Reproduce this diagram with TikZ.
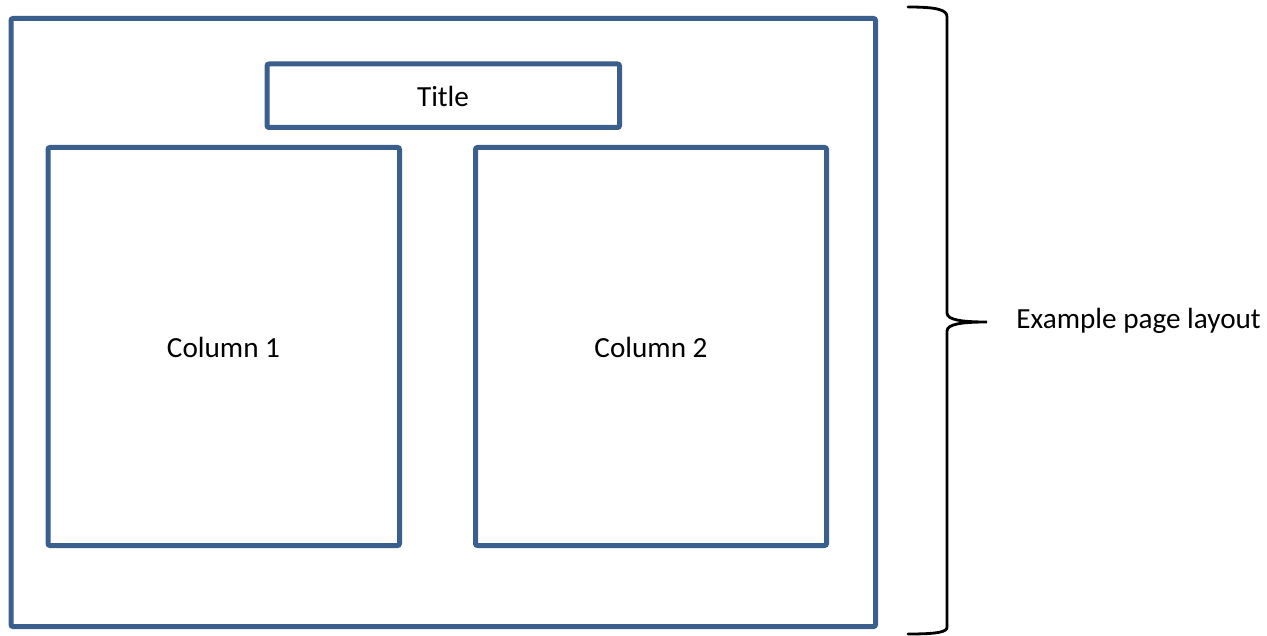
\documentclass[tikz,border=0pt]{standalone}
\usepackage{fontspec}
\setmainfont{Carlito}
\usepackage{tikz}
\definecolor{boxblue}{HTML}{3A5F8C}

\begin{document}
\begin{tikzpicture}[x=0.5pt, y=-0.5pt,
    pagebox/.style={draw=boxblue, line width=2.5pt, rounded corners=1pt},
    every node/.style={font=\fontsize{14.6}{17}\selectfont}]
\useasboundingbox (0,0) rectangle (1267,636);
%page and boxes
\draw[pagebox] (11,18.5) rectangle (875.5,626.5);
\draw[pagebox] (267,64) rectangle (619.5,127.5);
\draw[pagebox] (48,147.5) rectangle (399.5,545.5);
\draw[pagebox] (475.5,147.5) rectangle (826.5,545.5);
%box labels
\node (title) at (443,96) {Title};
\node (col1) at (223.5,347) {Column 1};
\node (col2) at (651,347) {Column 2};
%brace
\draw[line width=1.4pt, line cap=round]
    (908,7) .. controls (938,7) and (947,10) .. (947,17)
    -- (947,313) .. controls (947,320) and (962,322) .. (987,322)
    coordinate (tip)
    .. controls (962,322) and (947,324) .. (947,331)
    -- (947,627) .. controls (947,632) and (938,634) .. (908,634);
\node[anchor=west, inner sep=0pt] (layout) at (1016,321) {Example page layout};
\end{tikzpicture}
\end{document}
